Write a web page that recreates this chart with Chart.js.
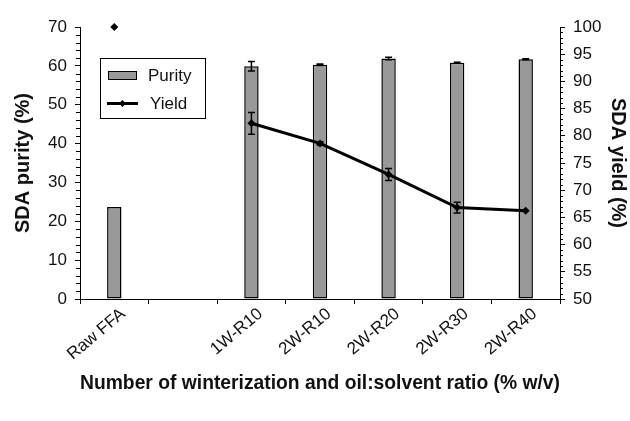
<!DOCTYPE html>
<html lang="en">
<head>
    <meta charset="UTF-8">
    <title>SDA purity and yield</title>
    <script src="https://cdn.jsdelivr.net/npm/chart.js"></script>
    <style>
        body {
            margin: 0;
            background: #fff;
        }
        #chartContainer {
            width: 630px;
            height: 421px;
        }
    </style>
</head>
<body>

<div id="chartContainer">
    <canvas id="sdaChart" width="630" height="421"></canvas>
</div>

<script>
    const categories = ['Raw FFA', '', '1W-R10', '2W-R10', '2W-R20', '2W-R30', '2W-R40'];
    const purity = [23.7, null, 59.9, 60.3, 61.9, 60.8, 61.7];
    const purityErr = [0, null, 1.2, 0.2, 0.3, 0.1, 0.1];
    const yieldVals = [100, null, 82.3, 78.6, 72.9, 66.8, 66.2];
    const yieldErr = [0, null, 2.0, 0.3, 1.1, 1.0, 0];

    const FONT = 'Arial, "Liberation Sans", sans-serif';
    Chart.defaults.font.family = FONT;
    Chart.defaults.color = '#111';

    // error bars for both series, drawn through the scales
    const errorBars = {
        id: 'errorBars',
        afterDatasetsDraw(chart) {
            const ctx = chart.ctx;
            const sets = [
                { idx: 0, vals: purity, errs: purityErr, scale: chart.scales.y },
                { idx: 1, vals: yieldVals, errs: yieldErr, scale: chart.scales.y1 }
            ];
            ctx.save();
            ctx.strokeStyle = '#000';
            ctx.lineWidth = 1.5;
            sets.forEach(s => {
                const meta = chart.getDatasetMeta(s.idx);
                s.vals.forEach((v, i) => {
                    if (v === null || !s.errs[i]) return;
                    const x = meta.data[i].x;
                    const yTop = s.scale.getPixelForValue(v + s.errs[i]);
                    const yBot = s.scale.getPixelForValue(v - s.errs[i]);
                    ctx.beginPath();
                    ctx.moveTo(x, yTop); ctx.lineTo(x, yBot);
                    ctx.moveTo(x - 3.5, yTop); ctx.lineTo(x + 3.5, yTop);
                    ctx.moveTo(x - 3.5, yBot); ctx.lineTo(x + 3.5, yBot);
                    ctx.stroke();
                });
            });
            ctx.restore();
        }
    };

    // minor tick marks and the boxed legend
    const extras = {
        id: 'extras',
        afterDraw(chart) {
            const ctx = chart.ctx;
            const y = chart.scales.y, y1 = chart.scales.y1;
            ctx.save();
            ctx.strokeStyle = '#000';
            ctx.lineWidth = 1;
            ctx.beginPath();
            for (let v = 0; v <= 70; v += 2) {
                if (v % 10 === 0) continue;
                const py = Math.round(y.getPixelForValue(v)) + 0.5;
                ctx.moveTo(y.right - 4, py); ctx.lineTo(y.right, py);
            }
            for (let v = 50; v <= 100; v += 1) {
                if (v % 5 === 0) continue;
                const py = Math.round(y1.getPixelForValue(v)) + 0.5;
                ctx.moveTo(y1.left, py); ctx.lineTo(y1.left + 3, py);
            }
            ctx.stroke();

            // legend
            ctx.strokeRect(100.5, 58.5, 105, 60);
            ctx.fillStyle = '#999999';
            ctx.fillRect(108.5, 71.5, 28, 8);
            ctx.strokeRect(108.5, 71.5, 28, 8);
            ctx.lineWidth = 3;
            ctx.beginPath();
            ctx.moveTo(107, 103.5); ctx.lineTo(138, 103.5);
            ctx.stroke();
            ctx.fillStyle = '#000';
            ctx.beginPath();
            ctx.moveTo(122.5, 100); ctx.lineTo(126, 103.5); ctx.lineTo(122.5, 107); ctx.lineTo(119, 103.5);
            ctx.closePath();
            ctx.fill();
            ctx.fillStyle = '#111';
            ctx.font = '17px ' + FONT;
            ctx.textBaseline = 'middle';
            ctx.fillText('Purity', 148, 76);
            ctx.fillText('Yield', 150, 104);
            ctx.restore();
        }
    };

    const ctx = document.getElementById('sdaChart').getContext('2d');
    const sdaChart = new Chart(ctx, {
        type: 'bar',
        data: {
            labels: categories,
            datasets: [
                {
                    label: 'Purity',
                    data: purity,
                    yAxisID: 'y',
                    backgroundColor: '#999999',
                    borderColor: '#000',
                    borderWidth: 1.5,
                    borderSkipped: false,
                    barPercentage: 0.21,
                    categoryPercentage: 1,
                    order: 1
                },
                {
                    label: 'Yield',
                    type: 'line',
                    data: yieldVals,
                    yAxisID: 'y1',
                    borderColor: '#000',
                    backgroundColor: '#000',
                    borderWidth: 3,
                    pointStyle: 'rectRot',
                    pointRadius: 4,
                    pointBorderWidth: 0,
                    pointBackgroundColor: '#000',
                    spanGaps: false,
                    clip: false,
                    order: 0
                }
            ]
        },
        options: {
            responsive: false,
            animation: false,
            layout: { padding: { top: 27, left: 0, right: 0, bottom: 0 } },
            plugins: {
                legend: { display: false },
                tooltip: { enabled: false }
            },
            scales: {
                x: {
                    grid: { drawOnChartArea: false, drawTicks: true, tickLength: 5, color: '#000' },
                    border: { display: true, color: '#000', width: 1 },
                    ticks: { minRotation: 40, maxRotation: 40, padding: 0, labelOffset: 9, font: { size: 17 }, color: '#111' },
                    title: {
                        display: true,
                        text: 'Number of winterization and oil:solvent ratio (% w/v)',
                        font: { size: 21, weight: 'bold' },
                        color: '#111',
                        padding: { top: 0, bottom: 25 }
                    },
                    afterFit(scale) { scale.height = 122; }
                },
                y: {
                    position: 'left',
                    min: 0,
                    max: 70,
                    ticks: { stepSize: 10, padding: 8, font: { size: 17 }, color: '#111' },
                    grid: { drawOnChartArea: false, drawTicks: true, tickLength: 5, color: '#000' },
                    border: { display: true, color: '#000', width: 1 },
                    title: {
                        display: true,
                        text: 'SDA purity (%)',
                        font: { size: 20, weight: 'bold' },
                        color: '#111',
                        padding: { top: 11, bottom: 0 }
                    },
                    afterFit(scale) { scale.width = 80; }
                },
                y1: {
                    position: 'right',
                    min: 50,
                    max: 100,
                    ticks: { stepSize: 5, padding: 8, font: { size: 17 }, color: '#111' },
                    grid: { drawOnChartArea: false, drawTicks: true, tickLength: 5, color: '#000' },
                    border: { display: true, color: '#000', width: 1 },
                    title: {
                        display: true,
                        text: 'SDA yield (%)',
                        font: { size: 20, weight: 'bold' },
                        color: '#111',
                        padding: { top: 0, bottom: 0 }
                    },
                    afterFit(scale) { scale.width = 70; }
                }
            }
        },
        plugins: [errorBars, extras]
    });
</script>

</body>
</html>
